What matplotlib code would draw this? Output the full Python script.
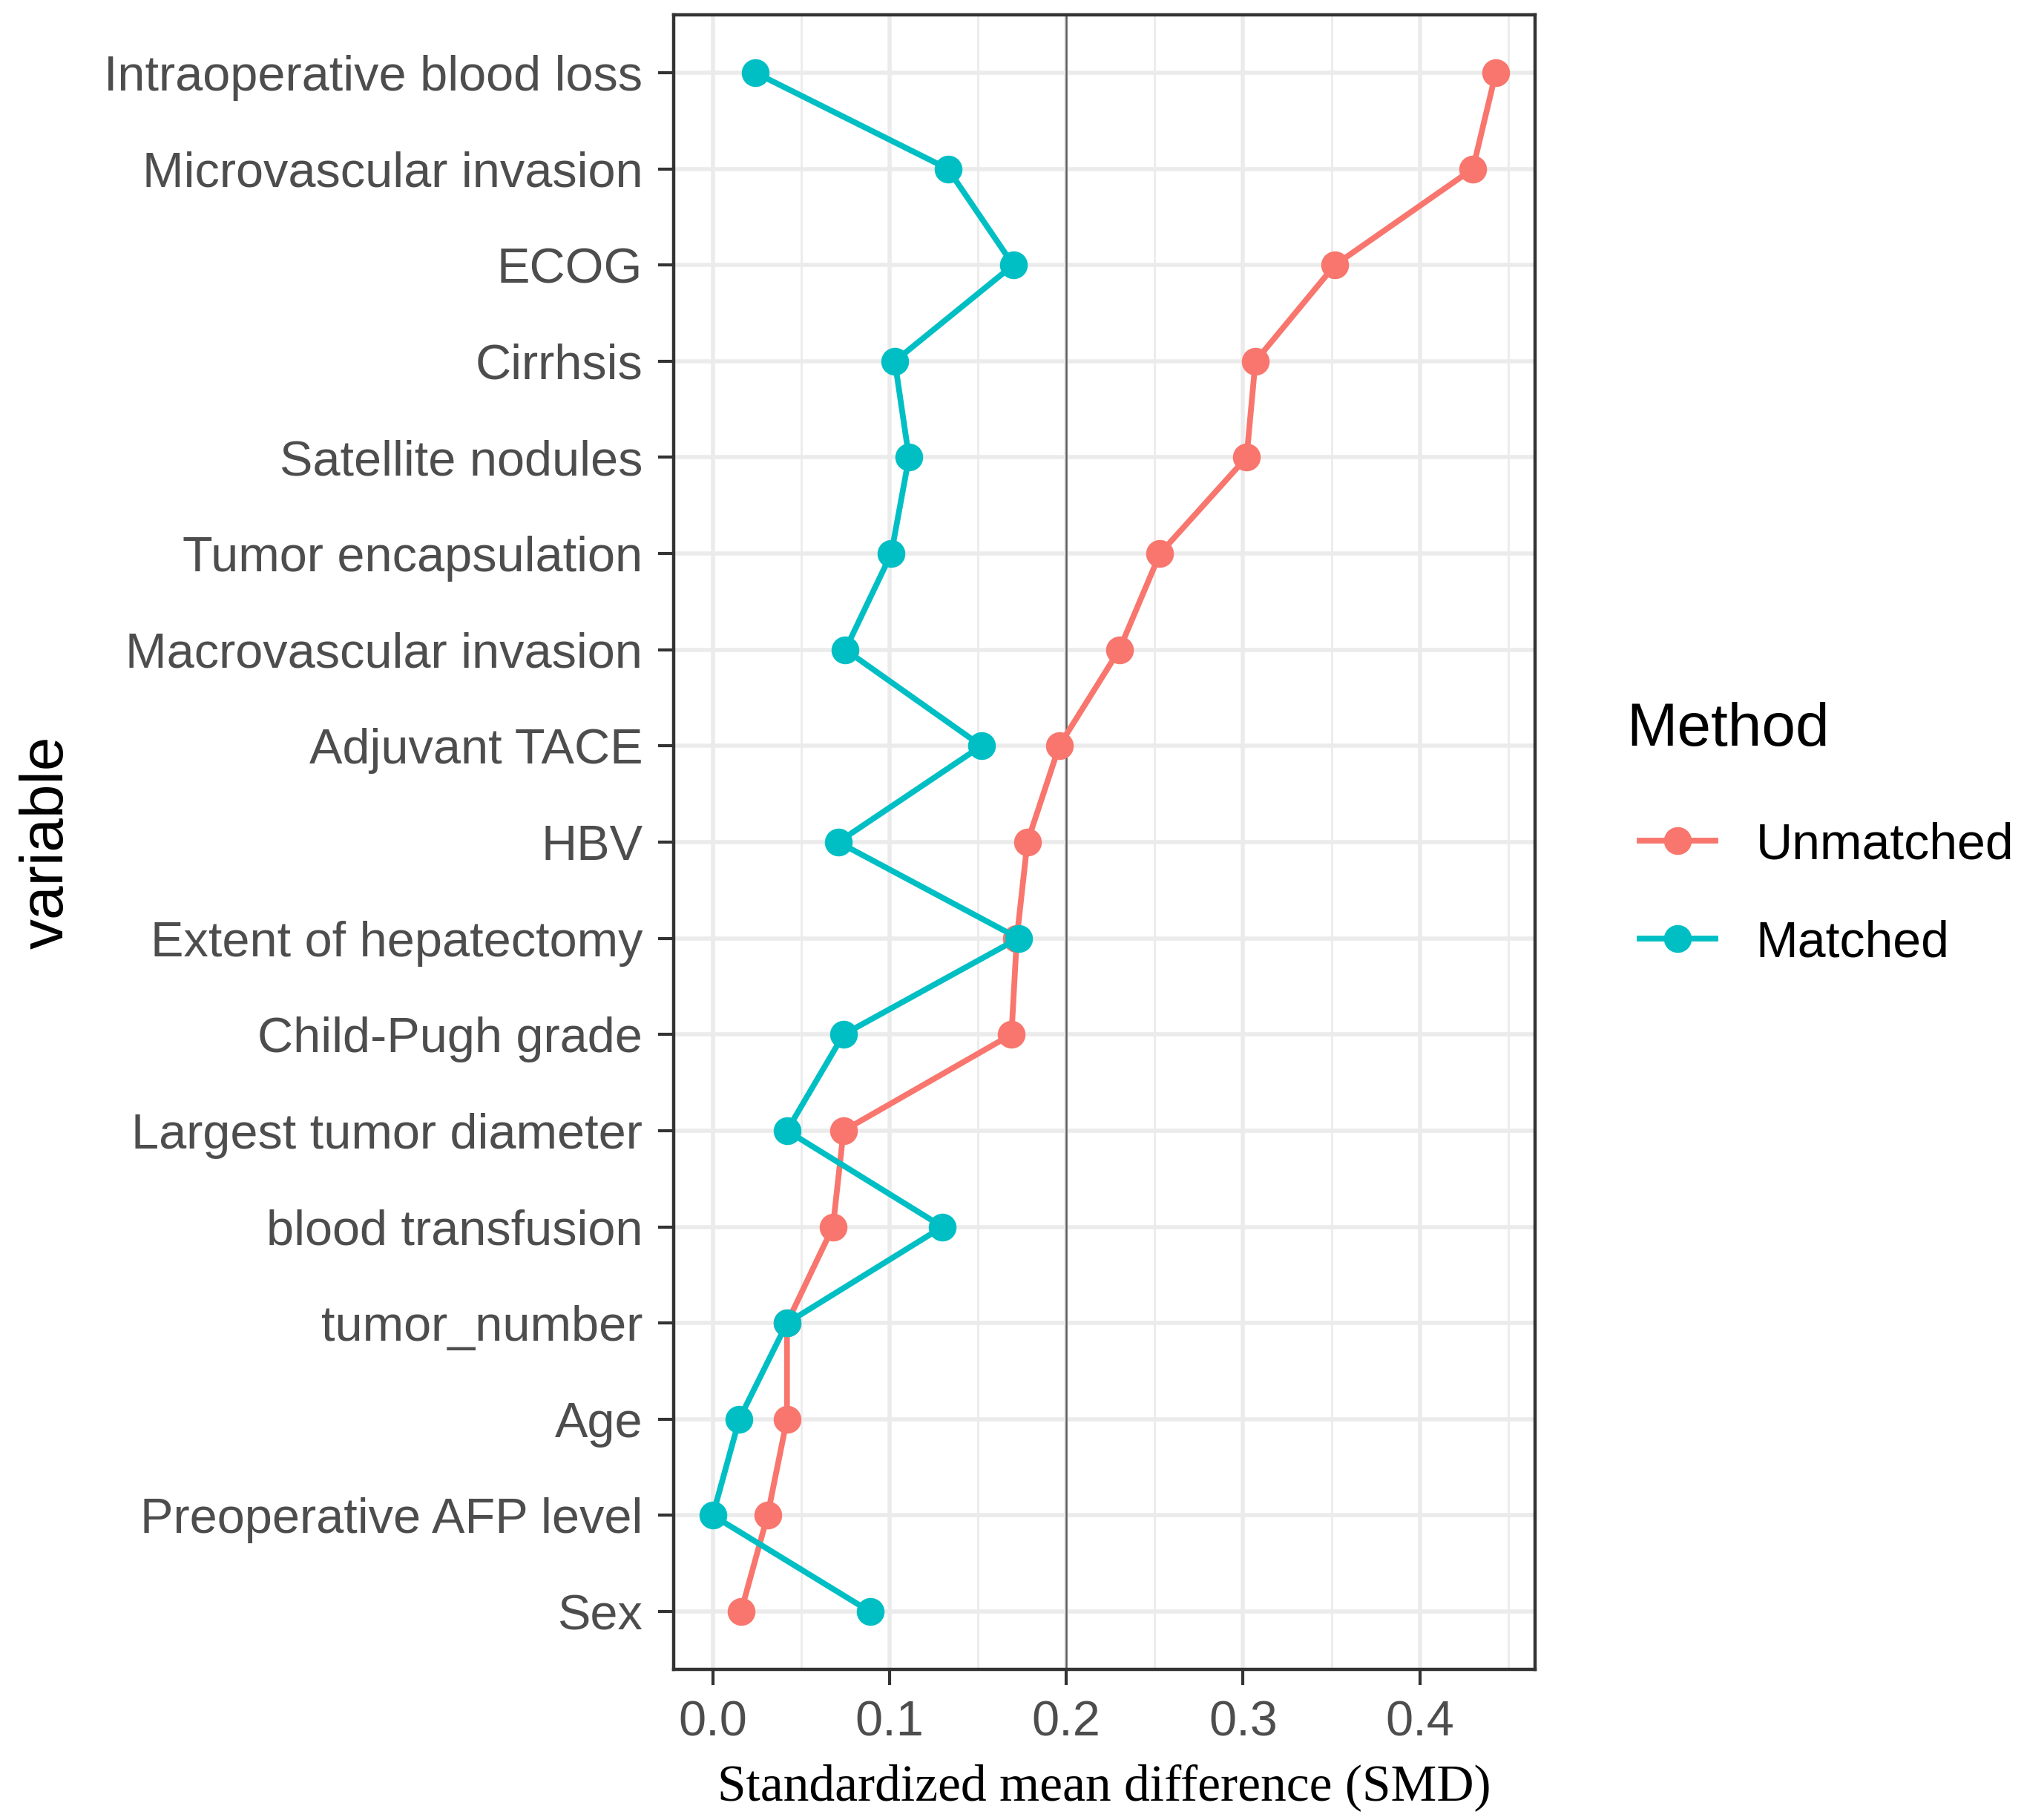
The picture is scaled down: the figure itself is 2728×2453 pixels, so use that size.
import numpy as np
import matplotlib
matplotlib.use("Agg")
import matplotlib.pyplot as plt
from matplotlib.lines import Line2D

# categories, top to bottom as in the figure
variables = ["Intraoperative blood loss", "Microvascular invasion", "ECOG", "Cirrhsis",
             "Satellite nodules", "Tumor encapsulation", "Macrovascular invasion",
             "Adjuvant TACE", "HBV", "Extent of hepatectomy", "Child-Pugh grade",
             "Largest tumor diameter", "blood transfusion", "tumor_number", "Age",
             "Preoperative AFP level", "Sex"]

unmatched = [0.443, 0.430, 0.352, 0.307, 0.302, 0.253, 0.230, 0.196, 0.178, 0.172,
             0.169, 0.074, 0.068, 0.042, 0.042, 0.031, 0.016]
matched = [0.024, 0.133, 0.170, 0.103, 0.111, 0.101, 0.075, 0.152, 0.071, 0.173,
           0.074, 0.042, 0.130, 0.042, 0.015, 0.000, 0.089]

methods = ["Unmatched", "Matched"]
colors = {"Unmatched": "#F8766D", "Matched": "#00BFC4"}
threshold = 0.2

plt.rcParams['font.family'] = ['Liberation Sans', 'DejaVu Sans']

fig = plt.figure(figsize=(27.28, 24.53), dpi=100)
ax = fig.add_axes([0.3328, 0.0828, 0.7584 - 0.3328, 0.9918 - 0.0828])

ypos = np.arange(len(variables))
series = {"Unmatched": unmatched, "Matched": matched}
LW, MS = 5.6, 27

ax.axvline(threshold, color="#5e5e5e", lw=1.8, zorder=1.5)
for m in methods:
    ax.plot(series[m], ypos, color=colors[m], lw=LW, marker="o", markersize=MS,
            markeredgewidth=0, zorder=3, solid_capstyle="butt")

allv = unmatched + matched
lo, hi = min(allv), max(allv)
pad = (hi - lo) * 0.05
ax.set_xlim(lo - pad, hi + pad)
ax.set_ylim(len(variables) - 1 + 0.6, -0.6)

ax.set_yticks(ypos)
ax.set_yticklabels(variables)
ax.set_xticks([0.0, 0.1, 0.2, 0.3, 0.4])
ax.set_xticklabels(["0.0", "0.1", "0.2", "0.3", "0.4"])
ax.set_xticks(np.arange(0.05, 0.46, 0.1), minor=True)

ax.grid(True, which="major", color="#EBEBEB", lw=4.0, zorder=0)
ax.grid(True, which="minor", axis="x", color="#EBEBEB", lw=2.0, zorder=0)
ax.set_axisbelow(True)

ax.tick_params(axis="both", which="major", length=15, width=3, color="#333333",
               labelsize=48, labelcolor="#4D4D4D", pad=15)
ax.tick_params(axis="x", which="minor", length=0)
for s in ax.spines.values():
    s.set_color("#333333")
    s.set_linewidth(3.2)

ax.set_ylabel("variable", fontsize=59, color="black")
ax.yaxis.set_label_coords(-0.694, 0.5)
ax.set_xlabel("Standardized mean difference (SMD)", fontsize=50, color="black",
              family=["Liberation Serif", "DejaVu Serif"])
ax.xaxis.set_label_coords(0.5, -0.057)

handles = [Line2D([], [], color=colors[m], lw=LW, marker="o", markersize=MS,
                  markeredgewidth=0) for m in methods]
leg = fig.legend(handles, methods, title="Method", loc="center left",
                 bbox_to_anchor=(2142 / 2728, 1 - 1133 / 2453), frameon=False,
                 fontsize=49, title_fontsize=59, handlelength=1.5, handletextpad=0.8,
                 labelspacing=1.0, borderpad=0.74, borderaxespad=0)
leg._legend_box.align = "left"
leg._legend_handle_box.pad = 12.5  # indent the keys a bit, like ggplot

fig.savefig("out.png", dpi=100)
